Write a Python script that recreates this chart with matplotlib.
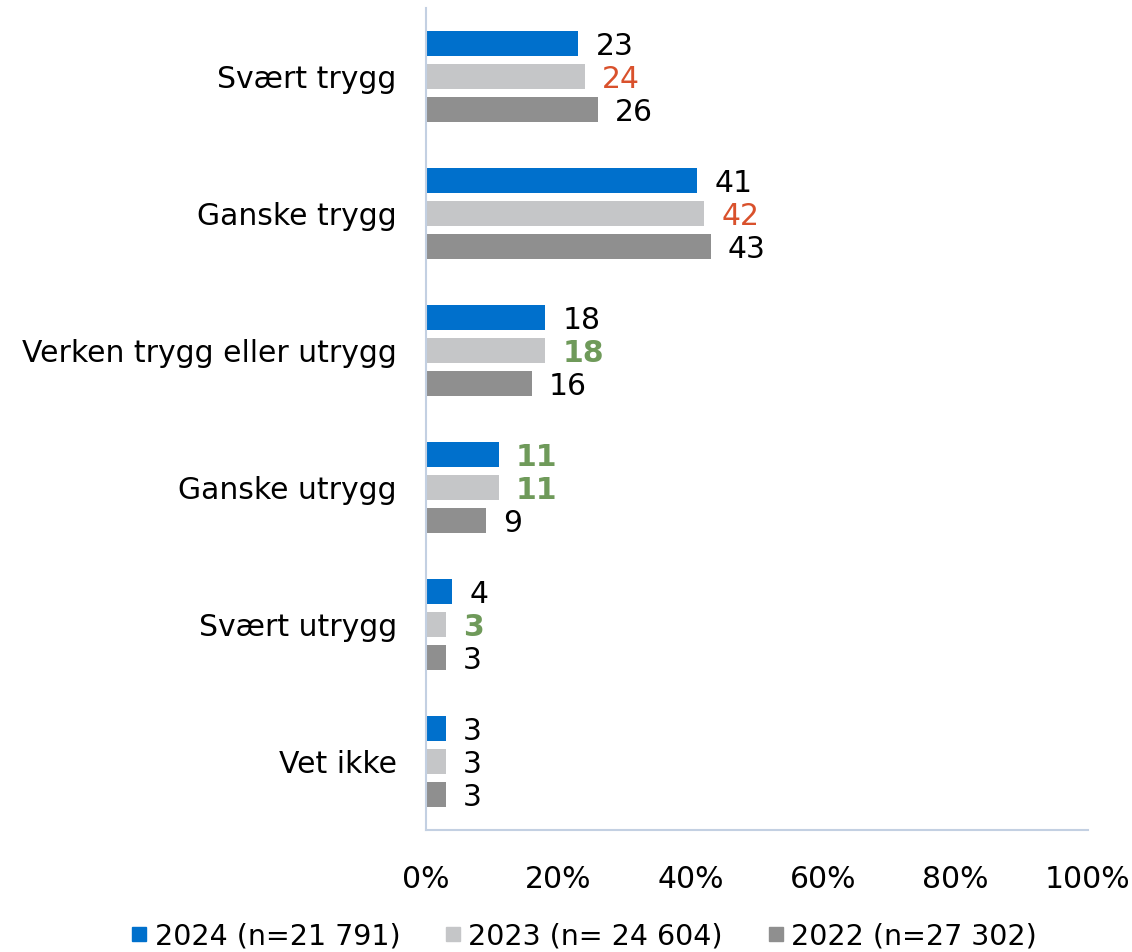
import matplotlib
matplotlib.use("Agg")
import matplotlib.pyplot as plt
import numpy as np
from matplotlib.lines import Line2D

plt.rcParams['font.family'] = ['DejaVu Sans']

categories = ["Svært trygg", "Ganske trygg", "Verken trygg eller utrygg",
              "Ganske utrygg", "Svært utrygg", "Vet ikke"]
series_names = ["2024 (n=21 791)", "2023 (n= 24 604)", "2022 (n=27 302)"]
v2024 = [23, 41, 18, 11, 4, 3]
v2023 = [24, 42, 18, 11, 3, 3]
v2022 = [26, 43, 16, 9, 3, 3]
xticks = [0, 20, 40, 60, 80, 100]
xticklabels = ["0%", "20%", "40%", "60%", "80%", "100%"]

colors = ["#0070CC", "#C5C6C8", "#8F8F8F"]
ORANGE = "#D9512C"
GREEN = "#6F9A5A"
label_colors = [
    ["k", "k", "k", GREEN, "k", "k"],
    [ORANGE, ORANGE, GREEN, GREEN, GREEN, "k"],
    ["k", "k", "k", "k", "k", "k"],
]
label_bold = [
    [False, False, False, True, False, False],
    [False, False, True, True, True, False],
    [False] * 6,
]

FS = 21.5
fig = plt.figure(figsize=(11.32, 9.52), dpi=100)
ax = fig.add_axes([426/1132, 1 - 830/952, (1088-426)/1132, (830-8)/952])

n = len(categories)
y = np.arange(n)
h = 0.178
off = 0.242
all_vals = [v2024, v2023, v2022]
for i, vals in enumerate(all_vals):
    ys = y + (i - 1) * off
    ax.barh(ys, vals, height=h, color=colors[i], label=series_names[i])
    for j, v in enumerate(vals):
        ax.text(v + 2.6, ys[j] + 0.02, str(v), va='center', ha='left', fontsize=FS,
                color=label_colors[i][j],
                fontweight='bold' if label_bold[i][j] else 'normal')

ax.set_ylim(n - 0.5, -0.5)
ax.set_xlim(0, 100)
ax.set_yticks(y)
ax.set_yticklabels(categories, fontsize=FS)
ax.set_xticks(xticks)
ax.set_xticklabels(xticklabels, fontsize=FS)
ax.tick_params(axis='both', length=0)
ax.tick_params(axis='y', pad=21)
ax.tick_params(axis='x', pad=25)
for s in ['top', 'right']:
    ax.spines[s].set_visible(False)
for s in ['left', 'bottom']:
    ax.spines[s].set_color('#C3D0E2')
    ax.spines[s].set_linewidth(1.5)

handles = [Line2D([0], [0], marker='s', linestyle='none', markersize=10,
                  markerfacecolor=c, markeredgecolor=c) for c in colors]
fig.legend(handles, series_names, loc='center', bbox_to_anchor=(583/1132, 1 - 936/952),
           ncol=3, frameon=False, fontsize=20.5, handletextpad=0.2, columnspacing=1.5,
           handlelength=0.7)

fig.savefig("out.png", dpi=100)
